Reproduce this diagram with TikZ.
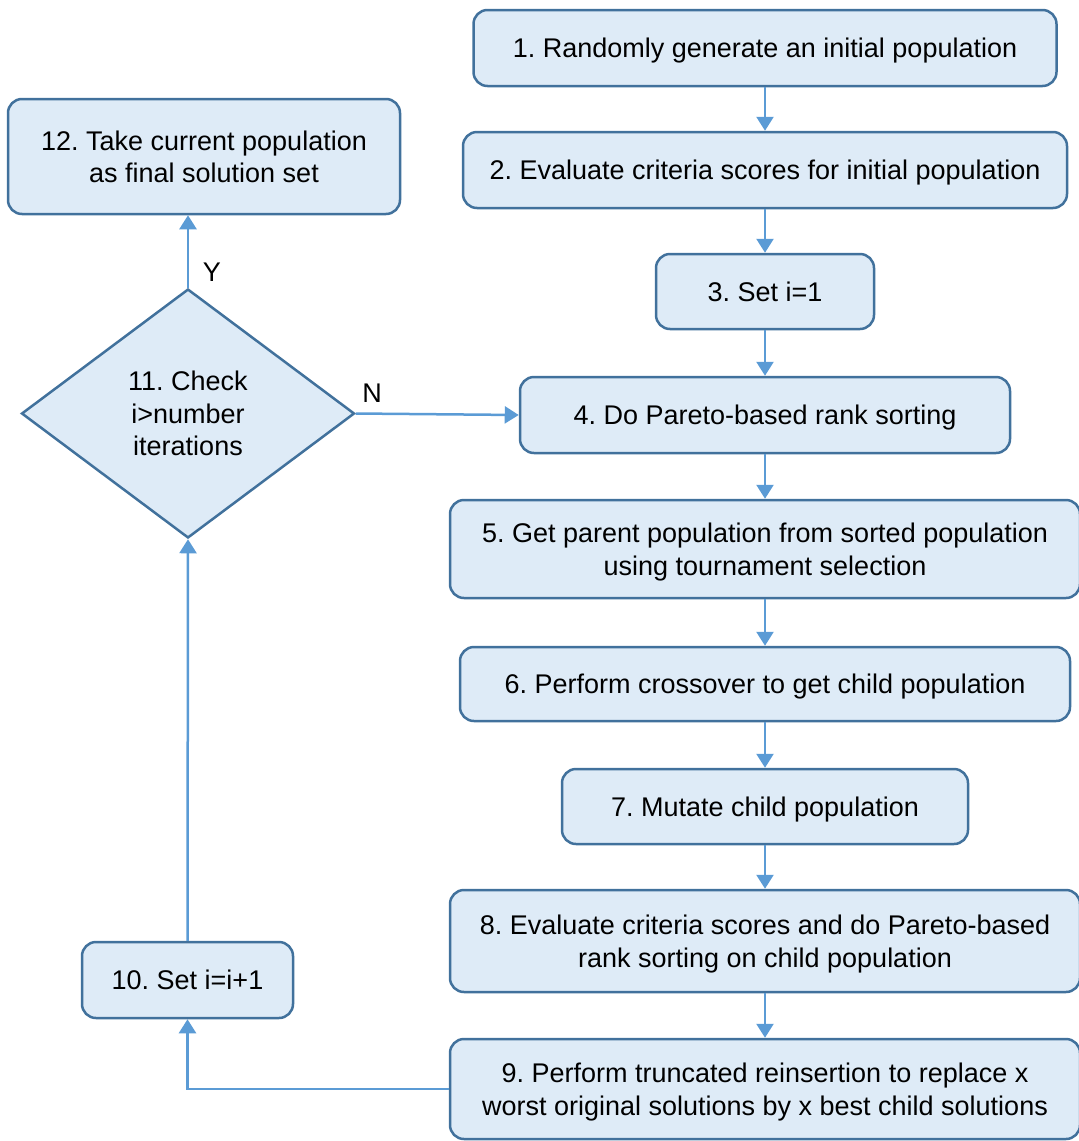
\documentclass[tikz,border=0pt]{standalone}
\usepackage{fontspec}
\setmainfont{Liberation Sans}
\usetikzlibrary{arrows.meta,shapes.geometric}
\definecolor{boxfill}{HTML}{DEEBF7}
\definecolor{boxline}{HTML}{41719C}
\definecolor{flow}{HTML}{5B9BD5}
\frenchspacing
\begin{document}
\begin{tikzpicture}[x=1pt,y=-1pt,
  every node/.style={font=\fontsize{27}{32.5}\selectfont},
  stepbox/.style={draw=boxline, fill=boxfill, line width=2.5pt, rounded corners=14pt,
    align=center, inner sep=0pt, text depth=0pt},
  decision/.style={draw=boxline, fill=boxfill, line width=2.5pt, shape=diamond,
    align=center, inner sep=0pt},
  flowline/.style={draw=flow, line width=2.5pt, -{Triangle[length=14pt,width=17pt]}},
]
\useasboundingbox (0,0) rectangle (1079,1141);

% main column
\node[stepbox, minimum width=583pt, minimum height=76pt] (n1) at (765,48)
  {1. Randomly generate an initial population};
\node[stepbox, minimum width=604pt, minimum height=76pt] (n2) at (765,170)
  {2. Evaluate criteria scores for initial population};
\node[stepbox, minimum width=218pt, minimum height=75pt] (n3) at (765,291.5)
  {3. Set i=1};
\node[stepbox, minimum width=490pt, minimum height=76pt] (n4) at (765,415)
  {4. Do Pareto-based rank sorting};
\node[stepbox, minimum width=630pt, minimum height=98pt] (n5) at (765,549)
  {5. Get parent population from sorted population\\using tournament selection};
\node[stepbox, minimum width=610pt, minimum height=74pt] (n6) at (765,684)
  {6. Perform crossover to get child population};
\node[stepbox, minimum width=406pt, minimum height=75pt] (n7) at (765,806.5)
  {7. Mutate child population};
\node[stepbox, minimum width=630pt, minimum height=102pt] (n8) at (765,941)
  {8. Evaluate criteria scores and do Pareto-based\\rank sorting on child population};
\node[stepbox, minimum width=630pt, minimum height=100pt] (n9) at (765,1089)
  {9. Perform truncated reinsertion to replace x\\worst original solutions by x best child solutions};

% loop column
\node[stepbox, minimum width=211pt, minimum height=76pt] (n10) at (187.5,980)
  {10. Set i=i+1};
\node[decision, minimum width=333pt, minimum height=249pt] (n11) at (188,413.5)
  {11. Check\\i>number\\iterations};
\node[stepbox, minimum width=392pt, minimum height=115pt] (n12) at (204,156.5)
  {12. Take current population\\as final solution set};

% connectors
\draw[flowline] (n1) -- (n2);
\draw[flowline] (n2) -- (n3);
\draw[flowline] (n3) -- (n4);
\draw[flowline] (n4) -- (n5);
\draw[flowline] (n5) -- (n6);
\draw[flowline] (n6) -- (n7);
\draw[flowline] (n7) -- (n8);
\draw[flowline] (n8) -- (n9);
\draw[flowline] (n9.west) -| (n10.south);
\draw[flowline] (n10.north) -- (n11.south);
\draw[flowline] (n11.north) -- (n11.north |- n12.south);
\draw[flowline] (n11.east) -- (n4.west);

% branch labels
\node (ylab) at (212,272) {Y};
\node (nlab) at (372,393) {N};
\end{tikzpicture}
\end{document}
